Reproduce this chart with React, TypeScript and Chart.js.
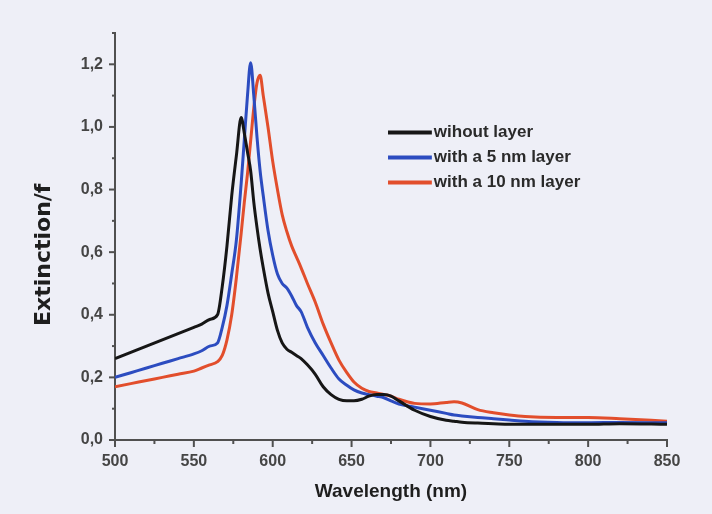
import React, { useEffect, useRef } from 'react';
import { Chart, registerables } from 'chart.js';

Chart.register(...registerables);

const wavelengths = [500, 510, 520, 530, 540, 550, 555, 560, 565, 568, 571, 574, 577, 580, 582, 584, 586, 588, 590, 592, 594, 597, 600, 603, 606, 609, 612, 615, 618, 622, 627, 632, 637, 642, 647, 651.5, 656.5, 661, 666, 670.5, 675, 680, 690, 700, 710, 715, 720, 730, 740, 750, 760, 780, 800, 820, 850];

const withoutLayer = [0.26, 0.28, 0.3, 0.32, 0.34, 0.36, 0.37, 0.385, 0.4, 0.49, 0.62, 0.78, 0.91, 1.03, 0.98, 0.92, 0.86, 0.76, 0.68, 0.61, 0.55, 0.47, 0.41, 0.35, 0.31, 0.29, 0.28, 0.27, 0.26, 0.24, 0.21, 0.17, 0.145, 0.13, 0.125, 0.125, 0.13, 0.14, 0.145, 0.145, 0.14, 0.125, 0.095, 0.075, 0.063, 0.06, 0.057, 0.054, 0.052, 0.05, 0.05, 0.05, 0.05, 0.052, 0.05];

const layer5nm = [0.2, 0.215, 0.23, 0.245, 0.26, 0.275, 0.285, 0.3, 0.31, 0.36, 0.43, 0.53, 0.64, 0.82, 0.96, 1.1, 1.205, 1.1, 0.97, 0.86, 0.78, 0.67, 0.59, 0.53, 0.5, 0.485, 0.46, 0.43, 0.41, 0.36, 0.31, 0.27, 0.23, 0.195, 0.175, 0.16, 0.15, 0.145, 0.14, 0.135, 0.125, 0.115, 0.105, 0.095, 0.085, 0.08, 0.077, 0.072, 0.068, 0.064, 0.06, 0.056, 0.055, 0.056, 0.055];

const layer10nm = [0.17, 0.18, 0.19, 0.2, 0.21, 0.22, 0.23, 0.24, 0.25, 0.27, 0.32, 0.4, 0.52, 0.66, 0.76, 0.85, 0.955, 1.06, 1.14, 1.165, 1.1, 1.0, 0.89, 0.8, 0.72, 0.665, 0.62, 0.585, 0.55, 0.5, 0.44, 0.37, 0.31, 0.255, 0.215, 0.185, 0.165, 0.155, 0.15, 0.145, 0.14, 0.13, 0.117, 0.115, 0.12, 0.122, 0.118, 0.097, 0.087, 0.08, 0.075, 0.072, 0.072, 0.068, 0.06];

const seriesLabels = ['wihout layer', 'with a 5 nm layer', 'with a 10 nm layer'];
const seriesColors = ['#161616', '#2c4cc0', '#e24e2c'];

const xTitle = 'Wavelength (nm)';
const yTitle = 'Extinction/f';

const toPoints = (ys: number[]) => ys.map((y, i) => ({ x: wavelengths[i], y }));

const AXIS_COLOR = '#505050';

const tickMarksPlugin = {
  id: 'tickMarks',
  afterDraw(chart: any) {
    const { ctx, chartArea: a, scales } = chart;
    ctx.save();
    ctx.strokeStyle = AXIS_COLOR;
    ctx.lineWidth = 2;
    for (let v = 500; v <= 850; v += 25) {
      const px = scales.x.getPixelForValue(v);
      const len = v % 50 === 0 ? 7 : 4;
      ctx.beginPath();
      ctx.moveTo(px, a.bottom);
      ctx.lineTo(px, a.bottom + len);
      ctx.stroke();
    }
    for (let i = 0; i <= 13; i++) {
      const py = scales.y.getPixelForValue(i / 10);
      const len = i % 2 === 0 ? 6 : 3;
      ctx.beginPath();
      ctx.moveTo(a.left, py);
      ctx.lineTo(a.left - len, py);
      ctx.stroke();
    }
    ctx.restore();
  },
};

const yTitlePlugin = {
  id: 'yTitle',
  afterDraw(chart: any) {
    const { ctx, chartArea: a } = chart;
    const h = a.bottom - a.top;
    ctx.save();
    ctx.translate(a.left - 71, a.top + 0.545 * h);
    ctx.rotate(-Math.PI / 2);
    ctx.font = 'bold 22px "DejaVu Sans"';
    ctx.fillStyle = '#1e1e1e';
    ctx.textAlign = 'center';
    ctx.textBaseline = 'middle';
    ctx.fillText(yTitle, 0, 0);
    ctx.restore();
  },
};

const legendPlugin = {
  id: 'insideLegend',
  afterDatasetsDraw(chart: any) {
    const { ctx, chartArea: a } = chart;
    const w = a.right - a.left;
    const h = a.bottom - a.top;
    const x0 = a.left + 0.4946 * w;
    const x1 = a.left + 0.574 * w;
    ctx.save();
    chart.data.datasets.forEach((ds: any, i: number) => {
      const y = a.top + (0.2445 + i * 0.0614) * h;
      ctx.strokeStyle = ds.borderColor;
      ctx.lineWidth = 4;
      ctx.beginPath();
      ctx.moveTo(x0, y);
      ctx.lineTo(x1, y);
      ctx.stroke();
      ctx.font = 'bold 17px "Liberation Sans"';
      ctx.fillStyle = '#2a2a2a';
      ctx.textAlign = 'left';
      ctx.textBaseline = 'middle';
      ctx.fillText(ds.label, x1 + 2, y);
    });
    ctx.restore();
  },
};

export default function App() {
  const canvasRef = useRef<HTMLCanvasElement | null>(null);

  useEffect(() => {
    if (!canvasRef.current) return;
    const seriesData = [withoutLayer, layer5nm, layer10nm];
    const chart = new Chart(canvasRef.current, {
      type: 'line',
      data: {
        datasets: seriesData.map((ys, i) => ({
          label: seriesLabels[i],
          data: toPoints(ys),
          borderColor: seriesColors[i],
          backgroundColor: seriesColors[i],
          borderWidth: 3,
          pointRadius: 0,
          cubicInterpolationMode: 'monotone' as const,
          fill: false,
        })),
      },
      options: {
        animation: false,
        responsive: true,
        maintainAspectRatio: false,
        layout: { padding: { left: 0, right: 45, top: 33, bottom: 0 } },
        plugins: {
          legend: { display: false },
          tooltip: { enabled: false },
        },
        scales: {
          x: {
            type: 'linear',
            min: 500,
            max: 850,
            afterFit: (s: any) => {
              s.height = 74;
            },
            border: { display: true, color: AXIS_COLOR, width: 2 },
            grid: { display: true, drawOnChartArea: false, drawTicks: false, color: 'rgba(0,0,0,0)' },
            ticks: {
              stepSize: 50,
              padding: 12,
              maxRotation: 0,
              color: '#454545',
              font: { family: '"Liberation Sans"', size: 16, weight: 'bold' },
              callback: (v: any) => String(v),
            },
            title: {
              display: true,
              text: xTitle,
              color: '#1e1e1e',
              font: { family: '"Liberation Sans"', size: 19, weight: 'bold' },
              padding: { top: 0, bottom: 11 },
            },
          },
          y: {
            type: 'linear',
            min: 0,
            max: 1.3,
            afterFit: (s: any) => {
              s.width = 115;
            },
            border: { display: true, color: AXIS_COLOR, width: 2 },
            grid: { display: true, drawOnChartArea: false, drawTicks: false, color: 'rgba(0,0,0,0)' },
            ticks: {
              stepSize: 0.2,
              includeBounds: false,
              padding: 12,
              color: '#454545',
              font: { family: '"Liberation Sans"', size: 16, weight: 'bold' },
              callback: (v: any) => Number(v).toFixed(1).replace('.', ','),
            },
          },
        },
      },
      plugins: [tickMarksPlugin, yTitlePlugin, legendPlugin],
    });
    return () => chart.destroy();
  }, []);

  return (
    <div
      style={{
        position: 'fixed',
        left: 0,
        top: 0,
        width: 712,
        height: 514,
        background: '#eeeff7',
      }}
    >
      <canvas ref={canvasRef} />
    </div>
  );
}
